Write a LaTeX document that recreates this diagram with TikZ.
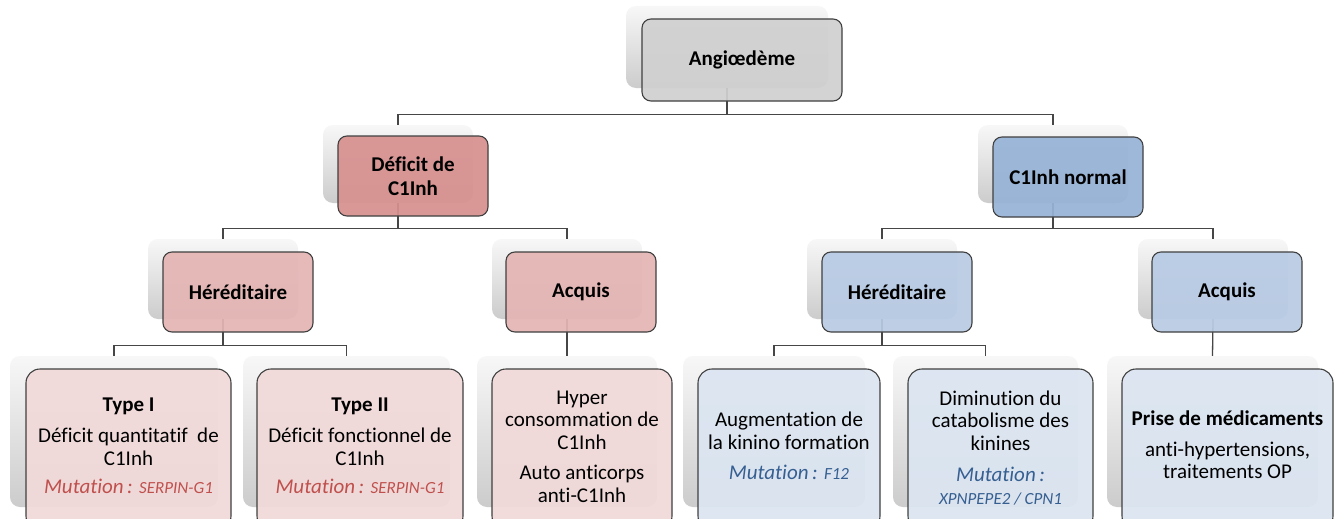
\documentclass[tikz,border=0pt]{standalone}
\usepackage{fontspec}
\setmainfont{Carlito}[Ligatures=NoCommon]
\definecolor{bordergray}{RGB}{64,64,64}
\definecolor{conncol}{RGB}{70,70,70}
\definecolor{grayA}{RGB}{208,208,208}
\definecolor{redA}{RGB}{215,145,143}
\definecolor{redB}{RGB}{228,181,180}
\definecolor{redC}{RGB}{241,218,217}
\definecolor{blueA}{RGB}{150,179,214}
\definecolor{blueB}{RGB}{184,203,228}
\definecolor{blueC}{RGB}{219,229,241}
\definecolor{mutred}{RGB}{192,80,77}
\definecolor{mutblue}{RGB}{54,95,145}
\newcommand{\bigtxt}{\fontsize{21}{24}\selectfont}
\newcommand{\bodytxt}{\fontsize{21}{22.5}\selectfont}
\newcommand{\genetxt}{\fontsize{17}{19}\selectfont}
\begin{document}
\begin{tikzpicture}[x=1pt,y=-1pt,
  backbox/.style={draw=none, inner sep=0pt, rounded corners=10pt,
    top color=black!3, bottom color=black!20},
  frontbox/.style={draw=bordergray, line width=1.1pt, inner sep=0pt,
    rounded corners=9pt, fill opacity=0.93, text opacity=1,
    align=center, font=\bigtxt\bfseries},
  leafbox/.style={frontbox, rounded corners=14pt},
  leaftxt/.style={inner sep=0pt, align=center, font=\bodytxt},
  conn/.style={draw=conncol, line width=1.3pt}]
\useasboundingbox (0,0) rectangle (1336,519);
\clip (0,0) rectangle (1336,519);
\fill[white] (0,0) rectangle (1336,519);

% back boxes
\node[backbox, minimum width=202pt, minimum height=82pt] (b0) at (727,47) {};
\node[backbox, minimum width=150pt, minimum height=78pt] (b1l) at (398,164) {};
\node[backbox, minimum width=150pt, minimum height=78pt] (b1r) at (1053,164) {};
\node[backbox, minimum width=150pt, minimum height=80pt] (b2a) at (223,279) {};
\node[backbox, minimum width=150pt, minimum height=80pt] (b2b) at (567,279) {};
\node[backbox, minimum width=150pt, minimum height=80pt] (b2c) at (882,279) {};
\node[backbox, minimum width=150pt, minimum height=80pt] (b2d) at (1213,279) {};
\node[backbox, minimum width=208pt, minimum height=151pt] (b3a) at (114,431.5) {};
\node[backbox, minimum width=207pt, minimum height=151pt] (b3b) at (346.5,431.5) {};
\node[backbox, minimum width=180pt, minimum height=151pt] (b3c) at (567,431.5) {};
\node[backbox, minimum width=182pt, minimum height=151pt] (b3d) at (774,431.5) {};
\node[backbox, minimum width=185pt, minimum height=151pt] (b3e) at (985.5,431.5) {};
\node[backbox, minimum width=211pt, minimum height=151pt] (b3f) at (1212.5,431.5) {};

% connectors
\draw[conn] (b0.south) -- ++(0,26) -| (b1l.north);
\draw[conn] (b0.south) -- ++(0,26) -| (b1r.north);
\draw[conn] (b1l.south) -- ++(0,25) -| (b2a.north);
\draw[conn] (b1l.south) -- ++(0,25) -| (b2b.north);
\draw[conn] (b1r.south) -- ++(0,25) -| (b2c.north);
\draw[conn] (b1r.south) -- ++(0,25) -| (b2d.north);
\draw[conn] (b2a.south) -- ++(0,26) -| (b3a.north);
\draw[conn] (b2a.south) -- ++(0,26) -| (b3b.north);
\draw[conn] (b2b.south) -- (b3c.north);
\draw[conn] (b2c.south) -- ++(0,26) -| (b3d.north);
\draw[conn] (b2c.south) -- ++(0,26) -| (b3e.north);
\draw[conn] (b2d.south) -- (b3f.north);

% front boxes
\node[frontbox, fill=grayA, minimum width=200pt, minimum height=82pt] (n0) at (742,60) {Angiœdème};
\node[frontbox, fill=redA, minimum width=150pt, minimum height=80pt] (n1l) at (413,176) {Déficit de\\C1Inh};
\node[frontbox, fill=blueA, minimum width=150pt, minimum height=80pt] (n1r) at (1068,177) {C1Inh normal};
\node[frontbox, fill=redB, minimum width=150pt, minimum height=80pt] (n2a) at (238,292) {Héréditaire};
\node[frontbox, fill=redB, minimum width=150pt, minimum height=80pt] (n2b) at (581,292) {Acquis};
\node[frontbox, fill=blueB, minimum width=150pt, minimum height=80pt] (n2c) at (897,292) {Héréditaire};
\node[frontbox, fill=blueB, minimum width=150pt, minimum height=80pt] (n2d) at (1227,292) {Acquis};

\node[leafbox, fill=redC, minimum width=205pt, minimum height=161pt] (n3a) at (128.5,449.5) {};
\node[leafbox, fill=redC, minimum width=206pt, minimum height=161pt] (n3b) at (360,449.5) {};
\node[leafbox, fill=redC, minimum width=180pt, minimum height=161pt] (n3c) at (582,449.5) {};
\node[leafbox, fill=blueC, minimum width=182pt, minimum height=161pt] (n3d) at (789,449.5) {};
\node[leafbox, fill=blueC, minimum width=185pt, minimum height=161pt] (n3e) at (1000.5,449.5) {};
\node[leafbox, fill=blueC, minimum width=211pt, minimum height=161pt] (n3f) at (1227.5,449.5) {};

% leaf texts
\node[leaftxt] (t3a) at (n3a.center |- 0,446) {{\bigtxt\bfseries Type I}\\[9pt]
  Déficit quantitatif\ \ de\\ C1Inh\\[6pt]
  {\color{mutred}\itshape Mutation\,: {\genetxt SERPIN-G1}}};
\node[leaftxt] (t3b) at (n3b.center |- 0,446) {{\bigtxt\bfseries Type II}\\[9pt]
  Déficit fonctionnel de\\ C1Inh\\[6pt]
  {\color{mutred}\itshape Mutation\,: {\genetxt SERPIN-G1}}};
\node[leaftxt] (t3c) at (n3c.center |- 0,446.5) {Hyper\\ consommation de\\ C1Inh\\[8pt]
  Auto anticorps\\ anti-C1Inh};
\node[leaftxt] (t3d) at (n3d.center |- 0,446) {Augmentation de\\ la kinino formation\\[8pt]
  {\color{mutblue}\itshape Mutation\,: {\genetxt F12}}};
\node[leaftxt] (t3e) at (n3e.center |- 0,448) {Diminution du\\ catabolisme des\\ kinines\\[9pt]
  {\color{mutblue}\itshape Mutation\,:}\\
  {\color{mutblue}\itshape\genetxt XPNPEPE2 / CPN1}};
\node[leaftxt] (t3f) at (n3f.center |- 0,445) {{\bigtxt\bfseries Prise de médicaments}\\[8pt]
  anti-hypertensions,\\ traitements OP};
\end{tikzpicture}
\end{document}
